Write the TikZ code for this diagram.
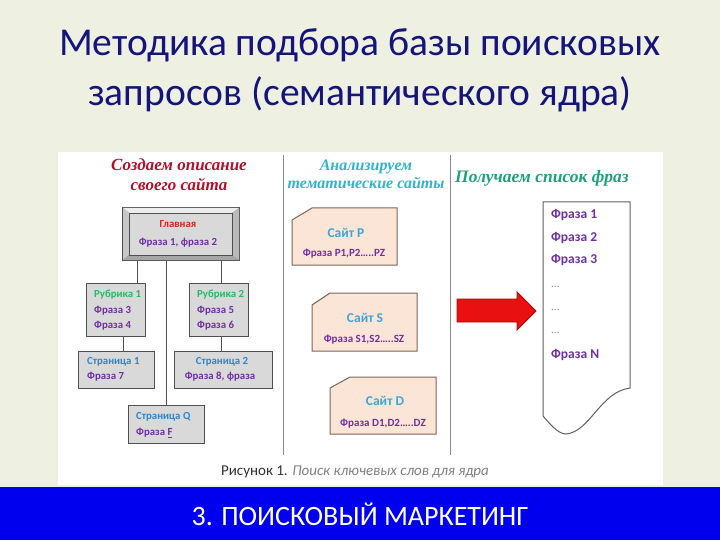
\documentclass[tikz,border=0pt]{standalone}
\usepackage{fontspec}
\setmainfont{Carlito}
\newfontfamily\headfont{Liberation Serif}
\definecolor{slidebg}{HTML}{EEF0E2}
\definecolor{titlenavy}{HTML}{14147A}
\definecolor{barblue}{HTML}{0000EE}
\definecolor{boxgray}{HTML}{D9D9D9}
\definecolor{boxline}{HTML}{505050}
\definecolor{phrase}{HTML}{7030A0}
\definecolor{rubgreen}{HTML}{22BB66}
\definecolor{pageblue}{HTML}{2E86C8}
\definecolor{mainred}{HTML}{E02020}
\definecolor{headred}{HTML}{B0102A}
\definecolor{headcyan}{HTML}{30B4CC}
\definecolor{headgreen}{HTML}{1FA07A}
\definecolor{peach}{HTML}{FBE5D6}
\definecolor{peachline}{HTML}{7A6658}
\definecolor{sitecyan}{HTML}{3FA6D6}
\definecolor{sepgray}{HTML}{8A8A8A}
\definecolor{arrowred}{HTML}{E81010}
\definecolor{captiongray}{HTML}{303030}
\tikzset{
  treebox/.style={draw=boxline, line width=1pt, fill=boxgray, inner sep=0pt},
  boxtext/.style={font=\fontsize{10.8}{15}\selectfont\bfseries, inner sep=0pt, anchor=west},
  sitebox/.style={draw=peachline, line width=1pt, fill=peach},
  sitetitle/.style={font=\fontsize{13.5}{15}\selectfont\bfseries, text=sitecyan, inner sep=0pt},
  sitephrase/.style={font=\fontsize{11}{12}\selectfont\bfseries, text=phrase, inner sep=0pt},
  listtext/.style={font=\fontsize{13.5}{15}\selectfont\bfseries, text=phrase, inner sep=0pt, anchor=west},
  listdots/.style={font=\fontsize{11}{12}\selectfont, text=gray, inner sep=0pt, anchor=west},
  heading/.style={inner sep=0pt},
  conn/.style={draw=boxline, line width=1pt},
}
\begin{document}
\begin{tikzpicture}[x=1pt,y=-1pt]
\useasboundingbox (0,0) rectangle (720,540);
\fill[slidebg] (0,0) rectangle (720,540);
% title
\node[font=\fontsize{39.5}{50}\selectfont, text=titlenavy, align=center, inner sep=0pt] (title) at (360,70)
  {Методика подбора базы поисковых\\запросов (семантического ядра)};
% white picture area
\fill[white] (58,152) rectangle (663,485);
% separators
\draw[sepgray, line width=1pt] (283,155) -- (283,455);
\draw[sepgray, line width=1pt] (450,155) -- (450,455);
% headings
\node[heading, text=headred, align=center, font=\headfont\itshape\bfseries\fontsize{17}{20}\selectfont] (h1) at (179,175) {Создаем описание\\своего сайта};
\node[heading, text=headcyan, align=center, font=\headfont\itshape\bfseries\fontsize{16}{18}\selectfont] (h2) at (366,174) {Анализируем\\тематические сайты};
\node[heading, text=headgreen, anchor=west, font=\headfont\itshape\bfseries\fontsize{17.5}{20}\selectfont] (h3) at (455,178) {Получаем список фраз};

% main bevel box
\fill[boxline] (122,207) rectangle (240,261);
\fill[gray!15] (123,208) -- (239,208) -- (232,213) -- (129,213) -- cycle;
\fill[gray!45] (123,208) -- (129,213) -- (129,255) -- (123,260) -- cycle;
\fill[gray!70] (123,260) -- (129,255) -- (232,255) -- (239,260) -- cycle;
\fill[gray!55] (239,208) -- (239,260) -- (232,255) -- (232,213) -- cycle;
\node[fill=boxgray, draw=boxline, line width=0.5pt, minimum width=103pt, minimum height=42pt, inner sep=0pt] (main) at (180.5,234) {};
\node[font=\fontsize{10.8}{12}\selectfont\bfseries, text=mainred, inner sep=0pt] (mainT) at (178,224) {Главная};
\node[font=\fontsize{10.8}{12}\selectfont\bfseries, text=phrase, inner sep=0pt] (mainP) at (178,243) {Фраза 1, фраза 2};
\coordinate (mainb) at (180.5,261);

% tree boxes
\node[treebox, minimum width=59pt, minimum height=53pt] (r1) at (115.5,309.5) {};
\node[treebox, minimum width=59pt, minimum height=53pt] (r2) at (218.5,309.5) {};
\node[treebox, minimum width=76pt, minimum height=37pt] (p1) at (116,369.5) {};
\node[treebox, minimum width=98pt, minimum height=37pt] (p2) at (223,369.5) {};
\node[treebox, minimum width=76pt, minimum height=38pt] (pq) at (166,424) {};

% connectors
\draw[conn] ([xshift=21.5pt]r1.north) -- ([xshift=21.5pt]r1.north |- mainb);
\draw[conn] ([xshift=2.5pt]r2.north) -- ([xshift=2.5pt]r2.north |- mainb);
\draw[conn] (pq.north) -- (pq.north |- mainb);
\draw[conn] ([xshift=7.5pt]r1.south) -- ([xshift=7pt]p1.north);
\draw[conn] ([xshift=2.5pt]r2.south) -- ([xshift=-2pt]p2.north);

% tree texts
\node[boxtext, text=rubgreen] (r1a) at (94,295) {Рубрика 1};
\node[boxtext, text=phrase] (r1b) at (94,311) {Фраза 3};
\node[boxtext, text=phrase] (r1c) at (94,326) {Фраза 4};
\node[boxtext, text=rubgreen] (r2a) at (197,295) {Рубрика 2};
\node[boxtext, text=phrase] (r2b) at (197,311) {Фраза 5};
\node[boxtext, text=phrase] (r2c) at (197,326) {Фраза 6};
\node[boxtext, text=pageblue] (p1a) at (87,362) {Страница 1};
\node[boxtext, text=phrase] (p1b) at (87,377) {Фраза 7};
\node[boxtext, text=pageblue, anchor=center] (p2a) at (222,362) {Страница 2};
\node[boxtext, text=phrase, anchor=center] (p2b) at (220,377) {Фраза 8, фраза};
\node[boxtext, text=pageblue] (pqa) at (136,417) {Страница Q};
\node[boxtext, text=phrase] (pqb) at (136,433) {Фраза \underline{F}};

% site boxes
\draw[sitebox] (312,208) -- (397,208) -- (397,265) -- (292,265) -- (292,220) -- cycle;
\node[sitetitle] (sp) at (346,233) {Сайт P};
\node[sitephrase] (spp) at (344,254) {Фраза P1,P2…..PZ};
\draw[sitebox] (330,293) -- (417,293) -- (417,351) -- (312,351) -- (312,305) -- cycle;
\node[sitetitle] (ss) at (365,318) {Сайт S};
\node[sitephrase] (ssp) at (364,340) {Фраза S1,S2…..SZ};
\draw[sitebox] (350,377) -- (436,377) -- (436,434) -- (330,434) -- (330,388) -- cycle;
\node[sitetitle] (sd) at (385,401) {Сайт D};
\node[sitephrase] (sdp) at (383,424) {Фраза D1,D2…..DZ};

% red arrow
\draw[arrowred!70!black, fill=arrowred, line width=0.8pt]
  (457,299) -- (517,299) -- (517,292) -- (536,311) -- (517,330) -- (517,322) -- (457,322) -- cycle;

% list document
\draw[draw=gray!75!black, fill=white, line width=1pt]
  (543,202) -- (630,202) -- (630,388)
  .. controls (600,392) and (590,432) .. (566,434)
  .. controls (558,434) and (550,424) .. (543,416) -- cycle;
\node[listtext] (l1) at (551,215) {Фраза 1};
\node[listtext] (l2) at (551,238) {Фраза 2};
\node[listtext] (l3) at (551,260) {Фраза 3};
\node[listdots] (d1) at (551,287) {...};
\node[listdots] (d2) at (551,310) {...};
\node[listdots] (d3) at (551,333) {...};
\node[listtext] (ln) at (551,355) {Фраза N};

% caption
\node[font=\fontsize{15}{17}\selectfont, text=captiongray, inner sep=0pt] (cap) at (355,472)
  {Рисунок 1. \textit{\color{gray}Поиск ключевых слов для ядра}};

% bottom bar
\fill[barblue] (0,487) rectangle (720,540);
\node[font=\fontsize{28}{30}\selectfont, text=white, inner sep=0pt] (bar) at (360,514) {3. ПОИСКОВЫЙ МАРКЕТИНГ};
\end{tikzpicture}
\end{document}
